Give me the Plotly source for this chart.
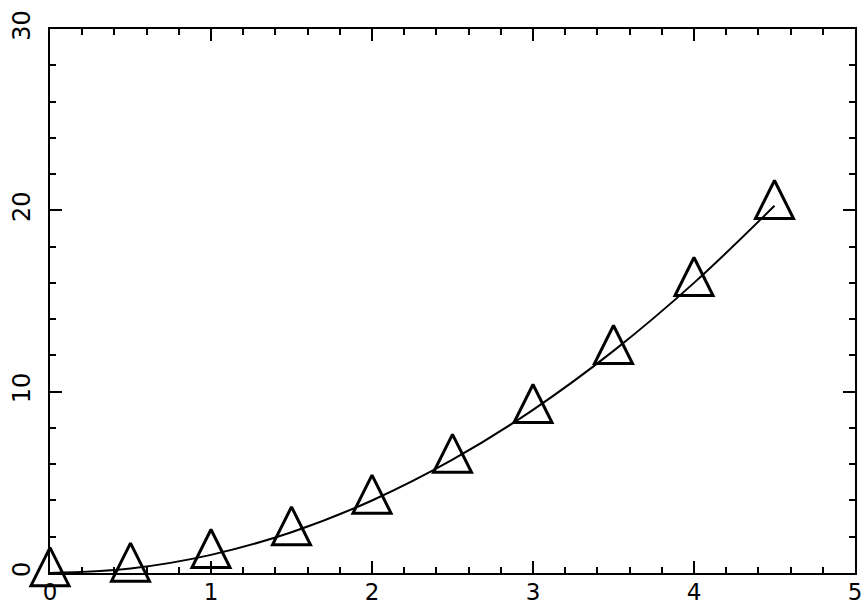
import plotly.graph_objects as go

# Sampled values of the quadratic series
x_vals = [0.0, 0.5, 1.0, 1.5, 2.0, 2.5, 3.0, 3.5, 4.0, 4.5]
y_vals = [0.0, 0.25, 1.0, 2.25, 4.0, 6.25, 9.0, 12.25, 16.0, 20.25]

x_ticks = [0, 1, 2, 3, 4, 5]
y_ticks = [0, 10, 20, 30]

FONT = dict(family="DejaVu Sans", size=24, color="black")
X_FONT = dict(family="DejaVu Sans", size=23, color="black")

MARKER_SIZE = 38

fig = go.Figure()

# smooth curve through the samples
fig.add_trace(go.Scatter(
    x=x_vals, y=y_vals, mode="lines",
    line=dict(color="black", width=2, shape="spline"),
    hoverinfo="skip", showlegend=False,
))

# open equilateral triangles; the arrow glyph is flipped and backed off
# by two thirds of its height so the centroid sits on each sample
fig.add_trace(go.Scatter(
    x=x_vals, y=y_vals, mode="markers",
    marker=dict(symbol="arrow-down", size=MARKER_SIZE, angle=180,
                standoff=MARKER_SIZE * 2 / 3,
                color="rgba(255,255,255,0)",
                line=dict(color="black", width=3)),
    cliponaxis=False, showlegend=False,
))

axis_common = dict(
    showline=True, linecolor="black", linewidth=2, mirror="ticks",
    ticks="inside", ticklen=12, tickwidth=2, tickcolor="black",
    showgrid=False, zeroline=False, automargin=False,
)

fig.update_xaxes(range=[0, 5], tickvals=x_ticks, ticktext=[str(v) for v in x_ticks],
                 tickfont=X_FONT, ticklabelstandoff=-3,
                 minor=dict(dtick=0.2, ticks="inside", ticklen=6, tickwidth=2,
                            tickcolor="black", showgrid=False),
                 **axis_common)
fig.update_yaxes(range=[0, 30], tickvals=y_ticks, ticktext=[str(v) for v in y_ticks],
                 tickfont=FONT, tickangle=-90, ticklabelstandoff=8,
                 minor=dict(dtick=2, ticks="inside", ticklen=6, tickwidth=2,
                            tickcolor="black", showgrid=False),
                 **axis_common)

fig.update_layout(
    width=866, height=607,
    margin=dict(l=50, r=11, t=29, b=34),
    plot_bgcolor="white", paper_bgcolor="white",
)

fig.write_html("out.html")
